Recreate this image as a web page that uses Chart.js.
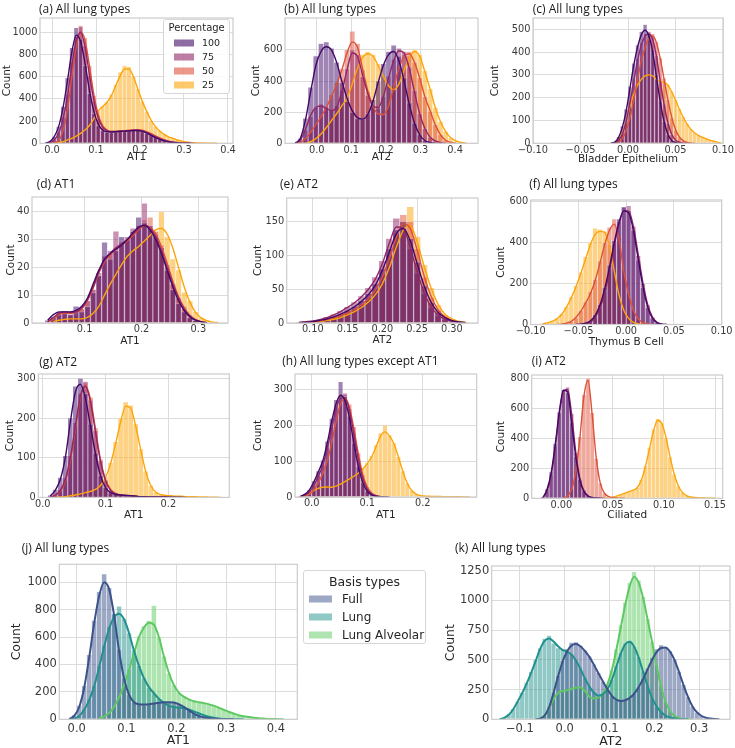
<!DOCTYPE html>
<html><head><meta charset="utf-8"><title>Histograms</title>
<script src="https://cdn.jsdelivr.net/npm/chart.js@4.4.1/dist/chart.umd.min.js"></script>
<style>
html,body{margin:0;padding:0;background:#fff;overflow:hidden;}
#root{position:relative;width:735px;height:748px;overflow:hidden;background:#fff;}
#root canvas{position:absolute;}
.ttl{position:absolute;font-family:'Open Sans','Noto Sans',sans-serif;font-size:12px;color:#1a1a1a;white-space:nowrap;line-height:14px;transform:translateY(-50%);}
.lg{position:absolute;background:rgba(255,255,255,0.85);border:1px solid #d6d6d6;border-radius:3px;font-family:'DejaVu Sans',sans-serif;color:#262626;box-sizing:border-box;}
.lg .t{position:absolute;left:0;right:0;text-align:center;transform:translateY(-50%);white-space:nowrap;line-height:1.2;}
.lg .r{position:absolute;white-space:nowrap;transform:translateY(-50%);line-height:1.2;}
.lg .s{position:absolute;transform:translateY(-50%);}
</style></head>
<body><div id="root"></div>
<script>
// ================= DATA =================
const PCT = ['100','75','50','25'];
const BASIS = ['Full','Lung','Lung Alveolar'];

// bins: [first bin centre, bin width, bin count]
// (a) All lung types / AT1
const aBins = [-0.015, 0.01, 40];
const aH100 = [0,8,55,150,330,590,860,1040,940,700,450,270,160,115,100,98,105,110,108,115,120,122,105,90,68,50,34,22,13,8,4,2,1];
const aK100 = [2,15,60,150,320,560,820,975,920,720,480,290,175,120,105,102,105,108,110,112,115,115,108,92,72,52,35,22,13,7,4,2,1,0];
const aH75  = [0,3,30,95,230,440,730,960,1050,880,610,380,220,140,110,104,106,108,112,116,118,120,110,96,78,58,40,26,16,10,5,3,1];
const aK75  = [0,5,30,90,220,420,700,920,1000,870,620,390,230,145,115,105,105,108,110,113,117,118,112,98,80,60,42,28,17,10,6,3,1,0];
const aH50  = [0,0,4,25,115,310,620,900,1060,950,700,430,250,155,118,106,108,112,115,118,122,125,118,104,86,66,46,30,19,11,6,3,1];
const aK50  = [null,0,5,25,110,300,600,870,1000,930,700,440,260,160,120,108,108,110,113,117,120,122,118,105,88,68,48,32,20,12,7,4,2,1,0];
const aH25  = [0,0,0,4,14,28,44,62,88,118,158,215,290,335,370,440,530,640,700,690,600,490,375,285,205,150,112,80,58,44,30,20,12,8,5,3,2,1,1];
const aK25  = [null,null,0,5,15,30,45,65,90,120,160,220,290,330,370,430,520,610,670,670,600,490,380,290,210,150,110,80,58,45,30,20,12,8,5,3,2,1,1,0];
const aXT = ['0.0','0.1','0.2','0.3','0.4'];
const aYT = ['0','200','400','600','800','1000'];

// (b) All lung types / AT2
const bBins = [-0.0625, 0.015, 34];
const bH100 = [0,30,160,360,560,640,650,610,520,390,270,200,160,155,190,280,400,510,590,630,560,420,260,130,55,18,5];
const bK100 = [0,30,150,330,500,590,620,600,520,400,290,210,165,155,185,270,390,500,570,590,530,400,250,130,55,18,5,0];
const bH75  = [0,18,85,170,230,250,230,215,240,340,480,600,570,430,310,235,225,300,430,540,610,590,490,340,190,95,40,15,4];
const bK75  = [0,20,90,180,230,240,225,210,230,330,470,580,560,440,320,240,230,300,420,530,595,580,480,330,190,95,40,15,4,0];
const bH50  = [0,4,28,70,125,175,235,310,390,480,600,720,640,470,330,235,185,185,245,370,490,570,590,520,420,300,205,120,55,20,5];
const bK50  = [0,5,30,70,120,170,230,300,380,470,580,650,620,480,340,240,190,185,240,360,480,560,575,520,420,300,210,120,55,20,5,0];
const bH25  = [0,0,0,10,30,60,100,150,195,240,290,390,500,570,590,570,510,430,365,340,380,480,560,600,570,465,350,230,140,75,35,15,5];
const bK25  = [null,null,0,10,30,60,100,145,190,240,290,380,480,550,575,560,500,430,370,345,380,470,550,590,560,460,350,230,140,75,35,15,5,0];
const bXT = ['0.0','0.1','0.2','0.3','0.4'];
const bYT = ['0','200','400','600'];

// (c) All lung types / Bladder Epithelium
const cBins = [-0.018, 0.004, 30];
const cH100 = [0,6,28,75,150,250,350,430,490,520,480,410,300,185,95,38,12,3];
const cK100 = [0,5,25,70,140,240,340,420,475,495,470,400,290,180,95,40,12,3,0];
const cH75  = [0,3,14,42,100,180,280,370,440,480,490,465,385,275,172,88,38,14,5,1];
const cK75  = [0,2,12,40,95,175,270,360,430,470,480,455,380,270,170,90,40,15,5,1,0];
const cH50  = [0,0,5,22,58,115,195,285,370,430,475,480,445,375,285,190,112,58,27,11,4,1];
const cK50  = [null,0,5,20,55,110,190,280,360,420,460,470,440,370,280,190,115,60,28,12,4,1,0];
const cH25  = [0,3,16,47,98,165,220,260,285,300,305,298,282,275,270,258,228,192,152,117,86,63,47,36,28,21,14,9,5,2];
const cK25  = [0,3,15,45,95,160,215,255,280,295,300,295,280,272,268,255,225,190,150,115,85,62,46,35,27,20,14,9,5,2];
const cXT = ['\u22120.10','\u22120.05','0.00','0.05','0.10'];
const cYT = ['0','100','200','300','400','500'];

// (d) AT1 / AT1
const dBins = [0.035, 0.01, 31];
const dH100 = [1,2,3,4,3,6,4,6,11,17,29,23,26,31,30,33,38,36,35,31,27,19,12,7,4,2,1];
const dK100 = [1,3,4,4,4,4.5,6,9,14,19,23,25,26.5,28,30,32.5,34.5,35,33.5,30,25,19,13,8,4.5,2.2,1,0.4,0.1];
const dH75  = [0,2,4,4,3,4,5,8,12,18,24,26,33,29,31,34,35,43,34,32,26,20,14,9,5,2,1];
const dK75  = [0.5,2,3.5,4,3.8,4,5.5,8.5,13,18.5,22.5,25,27,28.5,30,32,34,35.3,34,31,26,20,14,9,5,2.5,1.1,0.4,0.1];
const dH50  = [0,1,3,3,4,3,5,8,12,17,22,25,27,28,30,33,34,37,38,33,28,21,14,9,6,3,1];
const dK50  = [0.3,1.5,3,3.5,3.5,3.8,5,8,12.5,18,22,24.5,26.5,28,29.5,31.5,33.5,35,34.5,32,27.5,21.5,15,9.5,5.5,2.8,1.2,0.5,0.1];
const dH25  = [0,0,1,1,2,2,2,2,3,6,10,14,18,21,24,26,27,30,31,33,40,31,23,19,11,8,4,2,1];
const dK25  = [null,0.5,1,1.3,1.5,1.5,1.5,2,3.5,6,10,14,17.5,21,24,26,27.5,29.5,31.5,33.5,34,32,27,20,13,7.5,3.8,1.8,0.8,0.3,0.1];
const dXT = ['0.1','0.2','0.3'];
const dYT = ['0','10','20','30','40'];

// (e) AT2 / AT2
const eBins = [0.08, 0.01, 25];
const eH100 = [0,1,2,4,6,10,14,19,25,33,44,58,80,110,138,150,125,90,55,30,15,7,3,1];
const eK100 = [0.5,1,2,4,6,9,13,18,24,32,42,56,78,105,132,140,122,88,55,31,16,8,3.5,1.5,0.5];
const eH75  = [1,2,3,5,9,13,18,24,31,40,52,68,92,125,155,142,110,74,44,23,11,5,2,1];
const eK75  = [1,2,3,5,8,12,17,23,30,39,50,65,88,118,142,140,112,76,45,24,12,5.5,2.5,1,0.3];
const eH50  = [0,1,1,3,5,8,11,16,21,28,37,50,70,100,132,160,150,110,68,38,19,9,4,1];
const eK50  = [0.3,0.7,1.5,3,5,7.5,11,15,20,27,36,49,68,95,126,147,140,108,70,40,20,9,4,1.5,0.5];
const eH25  = [0,0,1,2,4,6,8,12,18,24,32,44,60,85,118,150,172,128,86,52,27,12,6,2,1];
const eK25  = [0.2,0.5,1,2,3.5,5.5,8,12,17,23,31,42,58,82,112,137,144,120,84,52,28,13,6,2.5,1];
const eXT = ['0.10','0.15','0.20','0.25','0.30'];
const eYT = ['0','50','100','150'];

// (f) All lung types / Thymus B Cell
const fBins = [-0.0875, 0.005, 28];
const fH100 = [0,0,0,0,0,0,0,0,2,6,18,47,97,180,290,410,515,575,555,460,315,180,82,30,8,2];
const fK100 = [null,null,null,null,null,null,null,0,2,6,18,45,95,175,280,400,500,555,545,460,320,185,85,30,8,2,0];
const fH75  = [0,0,0,0,0,0,0,0,1,4,12,36,82,160,268,395,500,570,580,480,335,200,95,35,10,2];
const fK75  = [null,null,null,null,null,null,null,0,1,4,12,35,80,155,260,385,490,555,555,480,345,205,98,36,10,2,0];
const fH50  = [0,0,0,0,2,6,14,33,68,110,160,220,310,400,475,515,425,265,150,72,28,9,2];
const fK50  = [null,null,null,0,2,6,15,35,65,105,150,215,300,390,460,490,415,260,150,70,28,9,2,0];
const fH25  = [4,9,16,30,52,88,135,190,255,330,400,470,465,455,390,265,150,72,30,10,3,1];
const fK25  = [3,8,15,28,50,85,130,185,250,320,390,440,455,450,380,260,145,70,30,10,3,1,0];
const fXT = ['\u22120.10','\u22120.05','0.00','0.05','0.10'];
const fYT = ['0','200','400','600'];

// (g) AT2 / AT1
const gBins = [0.012, 0.008, 35];
const gH100 = [5,20,50,105,200,280,300,262,185,112,55,25,12,8,6,5,4,3,2,2,1,1,1,1];
const gK100 = [4,18,45,100,190,265,285,250,180,110,55,25,12,8,6,5,4,3,2,1.5,1,1,1,1,0.5,0.5,0.3,0];
const gH75  = [1,7,20,48,105,188,262,292,245,168,92,42,18,9,6,5,4,3,2,1,1,1];
const gK75  = [1,6,18,45,100,180,255,280,240,165,90,42,18,9,6,5,4,3,2,1.5,1,1,0.5,0.5,0.3,0];
const gH50  = [1,5,16,42,96,178,258,288,252,175,96,45,20,10,6,5,4,3,2,1,1];
const gK50  = [1,5,15,40,92,172,250,282,248,172,95,45,20,10,6,5,4,3,2,1.5,1,1,0.5,0.3,0];
const gH25  = [0,0,1,2,4,6,9,12,15,20,30,52,88,140,200,240,232,185,122,66,30,13,7,5,4,3,3,2,2,1,1,1];
const gK25  = [null,0,1,2,4,6,9,12,15,20,30,50,85,135,190,230,225,180,120,65,30,13,7,5,4,3,3,2,2,1.5,1,1,0.5,0.3,0];
const gXT = ['0.0','0.1','0.2'];
const gYT = ['0','100','200','300'];

// (h) All lung types except AT1 / AT1
const hBins = [-0.02, 0.008, 39];
const hH100 = [2,8,20,44,72,102,155,218,270,320,280,225,150,85,40,16,6,2,1];
const hK100 = [2,8,20,42,70,100,150,210,260,283,268,220,150,85,40,16,6,2,1,0.5,0];
const hH75  = [1,5,14,32,58,90,138,195,250,282,288,245,178,105,52,22,8,3,1];
const hK75  = [1,5,14,32,58,88,135,190,245,275,275,240,175,105,52,22,8,3,1,0];
const hH50  = [0,2,8,20,40,66,102,152,215,265,285,258,195,122,62,28,11,4,1];
const hK50  = [null,2,8,20,40,65,100,150,210,258,274,250,190,120,62,28,11,4,1,0];
const hH25  = [1,4,10,18,24,27,28,27,30,36,43,50,58,66,80,95,115,145,178,200,172,150,112,72,38,18,8,4,3,2,2,1,1,1,1,1];
const hK25  = [1,4,10,18,24,27,28,27,30,36,43,50,58,66,78,93,112,140,170,181,170,148,112,72,38,18,8,4,2.5,2,1.5,1.5,1,1,1,0.5,0.5,0.2,0];
const hXT = ['0.0','0.1','0.2'];
const hYT = ['0','100','200','300'];

// (i) AT2 / Ciliated
const iBins = [-0.018, 0.004, 43];
const iH100 = [10,62,175,365,575,725,705,505,280,125,55,18,6,2,1];
const iK100 = [5,60,170,360,580,720,710,500,280,120,45,15,5,2,0.5,0];
const iH75  = [6,48,155,345,565,720,740,565,305,135,50,16,5,1];
const iK75  = [5,45,150,340,560,715,725,560,310,135,50,16,5,1,0];
const iH50  = [0,0,0,0,0,3,15,62,182,410,690,800,570,265,100,35,15,6,3,1];
const iK50  = [null,null,null,null,null,3,15,60,180,400,680,785,560,270,100,35,12,5,2,1,0];
const iH25  = [0,0,0,0,0,0,0,0,0,0,0,0,0,0,0,0,3,8,15,24,36,46,56,72,125,215,340,460,530,505,405,275,160,82,38,17,9,5,3,2,1,1];
const iK25  = [null,null,null,null,null,null,null,null,null,null,null,null,null,null,null,0,3,8,15,25,35,45,55,70,120,210,330,450,520,500,410,280,165,85,40,18,9,5,3,2,1,0.5,0];
const iXT = ['0.00','0.05','0.10','0.15'];
const iYT = ['0','200','400','600','800'];

// (j) All lung types / AT1, by basis
const jBins = [-0.015, 0.01, 44];
const jHF = [4,30,100,245,470,720,930,1060,960,770,510,300,180,125,108,105,112,118,122,126,128,124,110,88,64,42,25,14,8,4,2,1];
const jKF = [3,25,90,230,450,700,900,1000,950,760,500,300,180,125,110,108,110,115,120,124,125,122,110,90,65,42,25,14,8,4,2,1,0.5,0];
const jHL = [0,6,28,72,145,245,390,540,675,760,825,735,630,505,392,300,232,190,150,122,102,92,86,82,72,58,45,30,19,11,6,3,1,1];
const jKL = [0,5,25,70,140,240,380,530,660,745,770,730,630,500,390,300,235,190,150,120,100,90,85,80,72,58,44,30,19,11,6,3,1.5,0.7,0.3,0];
const jHA = [0,0,0,0,0,0,5,20,46,92,165,255,365,485,605,680,720,830,600,460,335,250,195,165,145,132,126,118,110,100,86,70,55,42,30,22,16,11,7,5,3,2,1];
const jKA = [null,null,null,null,null,null,5,20,45,90,160,250,360,480,600,670,705,690,600,460,340,250,195,165,145,132,125,118,110,100,85,70,55,42,30,22,16,11,7,5,3,2,1,0.5];
const jXT = ['0.0','0.1','0.2','0.3','0.4'];
const jYT = ['0','200','400','600','800','1000'];

// (k) All lung types / AT2, by basis
const kBins = [-0.155, 0.01, 51];
const kHF = [0,0,0,0,0,0,0,0,0,0,6,32,105,230,370,495,590,645,650,620,580,530,462,390,318,252,198,165,155,162,182,218,275,345,430,520,590,625,610,575,505,402,290,188,108,58,28,13,5,2];
const kKF = [null,null,null,null,null,null,null,null,null,0,5,30,100,220,360,480,570,620,633,615,575,525,460,390,320,255,200,165,155,160,180,215,270,340,420,500,565,600,605,570,500,400,290,190,110,60,30,14,6,2,0.5];
const kHL = [0,3,14,42,88,150,225,310,400,500,600,680,705,640,600,590,575,550,500,430,350,280,228,205,212,255,335,450,560,640,665,615,525,405,285,182,110,62,32,15,6,2];
const kKL = [null,2,12,38,85,150,220,300,390,490,590,660,680,655,615,585,570,545,495,425,345,275,225,200,210,250,330,440,550,630,652,610,520,400,280,180,110,62,32,15,6,2,0.5,0];
const kHA = [0,0,0,0,0,0,0,0,0,0,5,32,92,172,225,240,248,258,268,272,242,192,176,186,218,295,415,590,790,985,1150,1240,1170,1030,845,655,452,282,150,70,30,10,3,1];
const kKA = [null,null,null,null,null,null,null,null,null,0,5,30,90,170,220,238,245,255,265,268,240,190,175,185,215,290,410,580,770,960,1120,1200,1150,1020,840,650,450,280,150,70,30,10,3,1,0];
const kXT = ['\u22120.1','0.0','0.1','0.2','0.3'];
const kYT = ['0','250','500','750','1000','1250'];

// ================= STYLE / LAYOUT =================
const INFERNO = ['#420a68','#932667','#dd513a','#fca50a'];
const VIRIDIS = ['#3b528b','#21918c','#5ec962'];

const PANELS = [
 {title:'(a) All lung types', tpos:[39,8.5], rect:[40,18,233,143.3], countX:7, xly:157.5, xr:[-0.0273,0.4114], ymax:1129, xl:'AT1',
  bins:aBins, hist:[aH100,aH75,aH50,aH25], kde:[aK100,aK75,aK50,aK25], xt:aXT, yt:aYT},
 {title:'(b) All lung types', tpos:[284.3,8.5], rect:[285,18,478,143.3], countX:256.7, xly:157.5, xr:[-0.0916,0.466], ymax:805, xl:'AT2',
  bins:bBins, hist:[bH100,bH75,bH50,bH25], kde:[bK100,bK75,bK50,bK25], xt:bXT, yt:bYT},
 {title:'(c) All lung types', tpos:[532.7,8.5], rect:[533,18,723,143.3], countX:495, xly:159.5, xr:[-0.1,0.1], ymax:549, xl:'Bladder Epithelium',
  bins:cBins, hist:[cH100,cH75,cH50,cH25], kde:[cK100,cK75,cK50,cK25], xt:cXT, yt:cYT},
 {title:'(d) AT1', tpos:[36.7,184.3], rect:[32,197,228,323], countX:11, xly:342, xr:[0.0075,0.352], ymax:45.3, xl:'AT1',
  bins:dBins, hist:[dH100,dH75,dH50,dH25], kde:[dK100,dK75,dK50,dK25], xt:dXT, yt:dYT},
 {title:'(e) AT2', tpos:[280,184.3], rect:[286.7,198,478,323], countX:258.3, xly:341, xr:[0.0625,0.3375], ymax:185, xl:'AT2',
  bins:eBins, hist:[eH100,eH75,eH50,eH25], kde:[eK100,eK75,eK50,eK25], xt:eXT, yt:eYT},
 {title:'(f) All lung types', tpos:[529.3,184], rect:[530.7,200,721.7,324.5], countX:501.7, xly:343, xr:[-0.1,0.1], ymax:608, xl:'Thymus B Cell',
  bins:fBins, hist:[fH100,fH75,fH50,fH25], kde:[fK100,fK75,fK50,fK25], xt:fXT, yt:fYT},
 {title:'(g) AT2', tpos:[39.3,361.7], rect:[38.3,374,229.3,497.4], countX:10, xly:515.5, xr:[-0.007,0.297], ymax:311, xl:'AT1',
  bins:gBins, hist:[gH100,gH75,gH50,gH25], kde:[gK100,gK75,gK50,gK25], xt:gXT, yt:gYT},
 {title:'(h) All lung types except AT1', tpos:[282.3,361], rect:[295,374,476.7,497], countX:258.3, xly:515.5, xr:[-0.03,0.297], ymax:342, xl:'AT1',
  bins:hBins, hist:[hH100,hH75,hH50,hH25], kde:[hK100,hK75,hK50,hK25], xt:hXT, yt:hYT},
 {title:'(i) AT2', tpos:[531.7,361], rect:[531.7,375,722.7,498.3], countX:501.7, xly:515.5, xr:[-0.029,0.1575], ymax:822, xl:'Ciliated',
  bins:iBins, hist:[iH100,iH75,iH50,iH25], kde:[iK100,iK75,iK50,iK25], xt:iXT, yt:iYT},
 {title:'(j) All lung types', tpos:[21.7,548.3], rect:[59.3,564.3,297.3,719.3], countX:16.7, xly:740, xr:[-0.035,0.443], ymax:1131, xl:'AT1', big:true,
  bins:jBins, hist:[jHF,jHL,jHA], kde:[jKF,jKL,jKA], xt:jXT, yt:jYT},
 {title:'(k) All lung types', tpos:[455,548.3], rect:[491.7,566,730,719.3], countX:450, xly:741.7, xr:[-0.163,0.369], ymax:1290, xl:'AT2', big:true,
  bins:kBins, hist:[kHF,kHL,kHA], kde:[kKF,kKL,kKA], xt:kXT, yt:kYT}
];

// ================= RENDER =================
const root = document.getElementById('root');
function rgba(hex,a){const n=parseInt(hex.slice(1),16);return 'rgba('+((n>>16)&255)+','+((n>>8)&255)+','+(n&255)+','+a+')';}
function centres(b){const out=[];for(let i=0;i<b[2];i++)out.push(Math.round((b[0]+b[1]*i)*1e6)/1e6);return out;}
function num(s){return parseFloat(s.replace('\u2212','-'));}

const framePlugin = {
  id:'frame',
  afterDatasetsDraw(chart){
    const a = chart.chartArea, ctx = chart.ctx;
    ctx.save(); ctx.strokeStyle='#cccccc'; ctx.lineWidth=1.2;
    ctx.strokeRect(a.left, a.top, a.right-a.left, a.bottom-a.top);
    ctx.restore();
  }
};

function draw(p){
  const big = !!p.big;
  const pal = big ? VIRIDIS : INFERNO;
  const names = big ? BASIS : PCT;
  const tfs = big ? 11.5 : 9.8, afs = big ? 12.5 : 10.5, lw = big ? 2 : 1.4, alpha = 0.5;
  const L=p.rect[0], T=p.rect[1], R=p.rect[2], B=p.rect[3];
  const lh = afs*1.2;
  const cl = Math.round(p.countX - lh/2);
  const ct = Math.floor(T - 10);
  const cr = Math.ceil(R + 16);
  const cb = Math.round(p.xly + lh/2);
  const W = cr-cl, H = cb-ct;
  const yW = L - cl, xH = cb - B;
  const cv = document.createElement('canvas');
  cv.width=W; cv.height=H;
  cv.style.left=cl+'px'; cv.style.top=ct+'px'; cv.style.width=W+'px'; cv.style.height=H+'px';
  root.appendChild(cv);

  const xs = centres(p.bins);
  const datasets = [];
  p.kde.forEach((arr,k)=>datasets.push({
    type:'line', label:names[k]+' KDE',
    data: xs.map((x,i)=>({x:x, y:(arr[i]===undefined?null:arr[i])})),
    borderColor:pal[k], borderWidth:lw, pointRadius:0, fill:false,
    cubicInterpolationMode:'monotone', spanGaps:false, order:0
  }));
  p.hist.forEach((arr,k)=>datasets.push({
    type:'bar', label:names[k],
    data: xs.map((x,i)=>({x:x, y:arr[i]})).filter(d=>d.y>0),
    backgroundColor: rgba(pal[k],alpha), borderColor:'rgba(255,255,255,0.55)', borderWidth:0.5,
    borderSkipped:'start', grouped:false, barPercentage:1, categoryPercentage:1, order:1
  }));

  const tickFont = {family:'DejaVu Sans', size:tfs};
  const titleFont = {family:'DejaVu Sans', size:afs};
  new Chart(cv, {
    type:'bar',
    data:{datasets:datasets},
    options:{
      responsive:false, animation:false, devicePixelRatio:1, events:[],
      layout:{padding:{left:0, top:T-ct, right:cr-R, bottom:0}},
      plugins:{legend:{display:false}, tooltip:{enabled:false}, title:{display:false}},
      scales:{
        x:{type:'linear', min:p.xr[0], max:p.xr[1], offset:false,
           grid:{color:'#dcdcdc', lineWidth:1, drawTicks:false, offset:false},
           border:{display:false},
           afterBuildTicks:s=>{s.ticks=p.xt.map(l=>({value:num(l)}));},
           ticks:{autoSkip:false, maxRotation:0, minRotation:0, padding:big?2.5:1, color:'#3a3a3a', font:tickFont,
                  callback:(v,i)=>p.xt[i]},
           title:{display:true, text:p.xl, padding:0, color:'#262626', font:titleFont},
           afterFit:s=>{s.height=xH;}
        },
        y:{type:'linear', min:0, max:p.ymax,
           grid:{color:'#dcdcdc', lineWidth:1, drawTicks:false},
           border:{display:false},
           afterBuildTicks:s=>{s.ticks=p.yt.map(l=>({value:num(l)}));},
           ticks:{autoSkip:false, padding:2.5, color:'#3a3a3a', font:tickFont, callback:(v,i)=>p.yt[i]},
           title:{display:true, text:'Count', padding:0, color:'#262626', font:titleFont},
           afterFit:s=>{s.width=yW;}
        }
      }
    },
    plugins:[framePlugin]
  });

  const t = document.createElement('div');
  t.className='ttl'; t.textContent=p.title;
  t.style.left=p.tpos[0]+'px'; t.style.top=p.tpos[1]+'px';
  root.appendChild(t);
}

PANELS.forEach(draw);

// ---- legends ----
function legend(box, title, names, pal, alpha, o){
  const d = document.createElement('div');
  d.className='lg';
  d.style.left=box[0]+'px'; d.style.top=box[1]+'px'; d.style.width=box[2]+'px'; d.style.height=box[3]+'px';
  const t = document.createElement('div');
  t.className='t'; t.textContent=title; t.style.top=o.ty+'px'; t.style.fontSize=o.tfs+'px';
  d.appendChild(t);
  names.forEach((n,k)=>{
    const s=document.createElement('div');
    s.className='s'; s.style.left=o.sx+'px'; s.style.top=o.rows[k]+'px';
    s.style.width=o.sw+'px'; s.style.height=o.sh+'px'; s.style.background=rgba(pal[k],alpha);
    d.appendChild(s);
    const r=document.createElement('div');
    r.className='r'; r.textContent=n; r.style.left=o.lx+'px'; r.style.top=o.rows[k]+'px'; r.style.fontSize=o.efs+'px';
    d.appendChild(r);
  });
  root.appendChild(d);
}
legend([163.3,19,66.7,75], 'Percentage', PCT, INFERNO, 0.6,
  {ty:7.7, tfs:10, rows:[22.7,37,51,65.3], sx:10, sw:20, sh:7, lx:37.7, efs:9.5});
legend([303.3,570,122.4,74.3], 'Basis types', BASIS, VIRIDIS, 0.5,
  {ty:10, tfs:12.5, rows:[28.3,46,63.7], sx:4.7, sw:23, sh:7, lx:37.7, efs:12});
</script></body></html>
